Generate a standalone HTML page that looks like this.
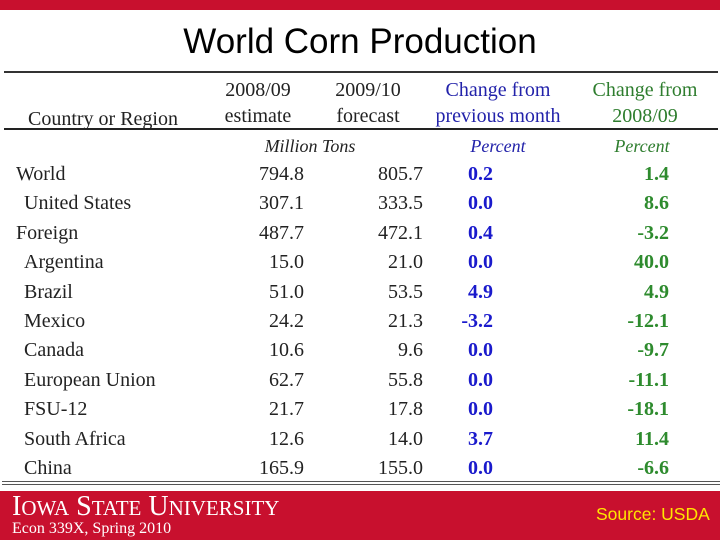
<!DOCTYPE html>
<html><head><meta charset="utf-8"><style>
body{margin:0;width:720px;height:540px;position:relative;background:#fff;overflow:hidden;font-family:"Liberation Serif",serif}
div,span{position:absolute}
.t{font-size:20px;color:#222;white-space:nowrap;line-height:20px}
.r{text-align:right}
.c{text-align:center}
.b{color:#1a1acc;font-weight:bold}
.g{color:#2e8b2e;font-weight:bold}
</style></head><body>
<div style="left:0;top:0;width:720px;height:10px;background:#c8102e"></div>
<div style="left:0;top:22px;width:720px;text-align:center;font-family:'Liberation Sans',sans-serif;font-size:35px;color:#000;line-height:40px">World Corn Production</div>
<div style="left:4px;top:71px;width:714px;height:2px;background:#333"></div>
<div style="left:4px;top:128px;width:714px;height:2px;background:#222"></div>
<div class="t c" style="left:208px;top:80px;width:100px">2008/09<br><span style="position:static;line-height:32px">estimate</span></div>
<div class="t c" style="left:318px;top:80px;width:100px">2009/10<br><span style="position:static;line-height:32px">forecast</span></div>
<div class="t c" style="left:428px;top:80px;width:140px;color:#2222aa">Change from<br><span style="position:static;line-height:32px">previous month</span></div>
<div class="t c" style="left:580px;top:80px;width:130px;color:#2e7d2e">Change from<br><span style="position:static;line-height:32px">2008/09</span></div>
<div class="t" style="left:28px;top:109px">Country or Region</div>
<div class="t c" style="left:240px;top:136px;width:140px;font-style:italic;font-size:18px">Million Tons</div>
<div class="t c" style="left:448px;top:136px;width:100px;font-style:italic;font-size:18px;color:#2222aa">Percent</div>
<div class="t c" style="left:592px;top:136px;width:100px;font-style:italic;font-size:18px;color:#2e7d2e">Percent</div>
<div id="rows"></div>
<div style="left:2px;top:481px;width:718px;height:4px;border-top:1px solid #555;border-bottom:1px solid #555;box-sizing:border-box"></div>
<div style="left:0;top:491px;width:720px;height:49px;background:#c8102e"></div>
<div style="left:12px;top:491px;font-size:28px;line-height:32px;color:#fff;white-space:nowrap">I<span style="position:static;font-size:21px">OWA</span> S<span style="position:static;font-size:21px">TATE</span> U<span style="position:static;font-size:21px">NIVERSITY</span></div>
<div style="left:12px;top:520px;font-size:16px;color:#fff;white-space:nowrap">Econ 339X, Spring 2010</div>
<div style="left:596px;top:504px;font-family:'Liberation Sans',sans-serif;font-size:17.5px;color:#ffe600">Source: USDA</div>
<script>
const countries=["World","United States","Foreign","Argentina","Brazil","Mexico","Canada","European Union","FSU-12","South Africa","China"];
const indent=[0,1,0,1,1,1,1,1,1,1,1];
const est0809=["794.8","307.1","487.7","15.0","51.0","24.2","10.6","62.7","21.7","12.6","165.9"];
const fc0910=["805.7","333.5","472.1","21.0","53.5","21.3","9.6","55.8","17.8","14.0","155.0"];
const chgMonth=["0.2","0.0","0.4","0.0","4.9","-3.2","0.0","0.0","0.0","3.7","0.0"];
const chgYear=["1.4","8.6","-3.2","40.0","4.9","-12.1","-9.7","-11.1","-18.1","11.4","-6.6"];
const box=document.getElementById('rows');
function cell(txt,cls,left,width,top,name){
  const d=document.createElement('div');
  d.className='t '+cls;d.textContent=txt;
  d.style.left=left+'px';d.style.top=top+'px';if(width)d.style.width=width+'px';
  
  
  box.appendChild(d);
}
countries.forEach((c,i)=>{
  const y=164+i*29.4;
  cell(c,'',indent[i]?24:16,0,y,'row-label');
  cell(est0809[i],'r',204,100,y,'value-2008');
  cell(fc0910[i],'r',323,100,y,'value-2009');
  cell(chgMonth[i],'r b',393,100,y,'value-change-month');
  cell(chgYear[i],'r g',569,100,y,'value-change-year');
});
</script>
</body></html>
